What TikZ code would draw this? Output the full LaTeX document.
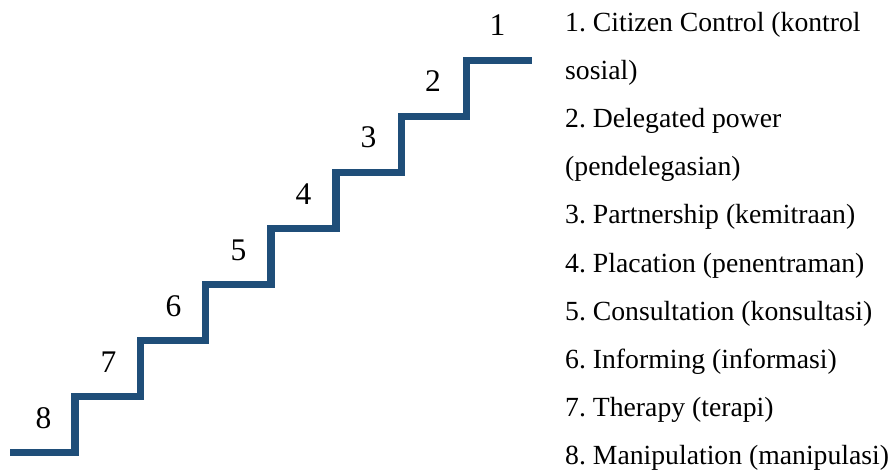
\documentclass[tikz,border=0pt]{standalone}
\usepackage{fontspec}
\setmainfont{Liberation Serif}
\frenchspacing
\definecolor{stairblue}{RGB}{31,78,121}
\begin{document}
\begin{tikzpicture}[x=1pt,y=1pt,
  stair/.style={draw=stairblue,line width=7.5pt,line join=miter,line cap=butt},
  stepnum/.style={anchor=base,inner sep=0pt,font=\fontsize{31.5}{36}\selectfont},
  itemtext/.style={anchor=base west,inner sep=0pt,font=\frenchspacing\fontsize{27.7}{33}\selectfont}]
\useasboundingbox (0,0) rectangle (894,472);
\draw[stair] (10,19.5) -- (75,19.5) -- (75,75.5) -- (140.25,75.5) -- (140.25,131.5)
  -- (205.5,131.5) -- (205.5,187.5) -- (270.75,187.5) -- (270.75,243.5)
  -- (336,243.5) -- (336,299.5) -- (401.25,299.5) -- (401.25,355.5)
  -- (466.5,355.5) -- (466.5,411.5) -- (532,411.5);
\node[stepnum] (n8) at (43.5,44) {8};
\node[stepnum] (n7) at (108.5,100) {7};
\node[stepnum] (n6) at (173.5,156) {6};
\node[stepnum] (n5) at (238.5,212) {5};
\node[stepnum] (n4) at (303.5,268) {4};
\node[stepnum] (n3) at (368.5,324) {3};
\node[stepnum] (n2) at (433,380) {2};
\node[stepnum] (n1) at (497.5,436) {1};
\node[itemtext] (t1a) at (565,440) {1. Citizen Control (kontrol};
\node[itemtext] (t1b) at (565,392) {sosial)};
\node[itemtext] (t2a) at (565,344) {2. Delegated power};
\node[itemtext] (t2b) at (565,296) {(pendelegasian)};
\node[itemtext] (t3) at (565,248) {3. Partnership (kemitraan)};
\node[itemtext] (t4) at (565,200) {4. Placation (penentraman)};
\node[itemtext] (t5) at (565,152) {5. Consultation (konsultasi)};
\node[itemtext] (t6) at (565,104) {6. Informing (informasi)};
\node[itemtext] (t7) at (565,56) {7. Therapy (terapi)};
\node[itemtext] (t8) at (565,8) {8. Manipulation (manipulasi)};
\end{tikzpicture}
\end{document}
